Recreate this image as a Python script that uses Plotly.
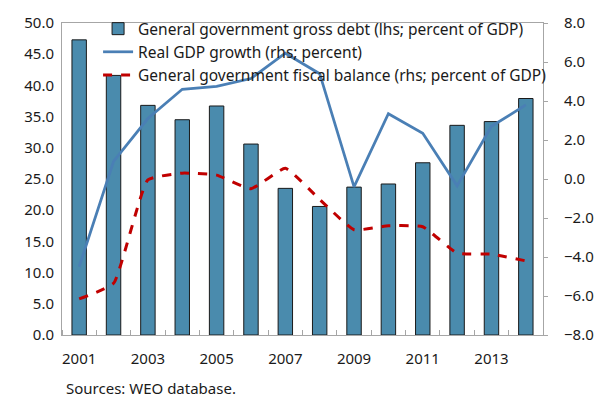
import plotly.graph_objects as go

years = list(range(2001, 2015))
debt = [47.3, 41.6, 36.8, 34.5, 36.7, 30.6, 23.5, 20.6, 23.7, 24.2, 27.6, 33.6, 34.2, 37.9]
gdp_growth = [-4.5, 0.9, 3.1, 4.6, 4.75, 5.15, 6.45, 5.4, -0.4, 3.35, 2.35, -0.35, 2.7, 3.8]
fiscal = [-6.15, -5.35, -0.05, 0.3, 0.2, -0.5, 0.55, -1.05, -2.6, -2.4, -2.45, -3.8, -3.85, -4.2]
xticks = [2001, 2003, 2005, 2007, 2009, 2011, 2013]

FONT = "Noto Sans"
AX = "#a6a6a6"

fig = go.Figure()
fig.add_trace(go.Bar(
    x=years, y=debt, name="General government gross debt (lhs; percent of GDP)",
    marker=dict(color="#4a8bad", line=dict(color="#1a1a1a", width=1)),
    width=0.42, yaxis="y"))
fig.add_trace(go.Scatter(
    x=years, y=gdp_growth, name="Real GDP growth (rhs; percent)", mode="lines",
    line=dict(color="#4a7fb5", width=2.75), yaxis="y2"))
fig.add_trace(go.Scatter(
    x=years, y=fiscal, name="General government fiscal balance (rhs; percent of GDP)",
    mode="lines", line=dict(color="#c00000", width=3, dash="dash", shape="spline", smoothing=0.4),
    yaxis="y2"))

fig.update_layout(
    width=606, height=402,
    margin=dict(l=62, r=53, t=19, b=67),
    paper_bgcolor="white", plot_bgcolor="white",
    font=dict(family=FONT, size=15, color="#1a1a1a"),
    showlegend=True,
    legend=dict(x=0.075, y=1.035, xanchor="left", yanchor="top", bgcolor="rgba(0,0,0,0)",
                font=dict(size=15.5), tracegroupgap=0, traceorder="normal"),
    xaxis=dict(range=[2000.5, 2014.5], tickmode="array", tickvals=xticks,
               ticktext=[str(v) for v in xticks], ticks="", showgrid=False,
               showline=True, linecolor=AX, linewidth=1, mirror=True,
               ticklabelstandoff=10,
               minor=dict(tickmode="linear", tick0=2000.5, dtick=1, ticks="inside",
                          ticklen=5, tickcolor=AX, showgrid=False)),
    yaxis=dict(range=[0, 50], dtick=5, tickformat=".1f", showgrid=False, zeroline=False,
               showline=True, linecolor=AX, linewidth=1, ticks="", ticklabelstandoff=4),
    yaxis2=dict(range=[-8, 8], dtick=2, tickformat=".1f", overlaying="y", side="right",
                showgrid=False, zeroline=False, showline=True, linecolor=AX, linewidth=1,
                ticks="outside", ticklen=4, tickcolor=AX, ticklabelstandoff=13),
    annotations=[dict(text="Sources: WEO database.", x=0, y=0, xref="paper", yref="paper",
                      showarrow=False, font=dict(size=15))],
)
pw = 606 - 62 - 53
ph = 402 - 19 - 67
fig.layout.annotations[0].update(x=(64 - 62) / pw, y=(335 - 389) / ph, xanchor="left", yanchor="middle")

fig.write_html("out.html")
